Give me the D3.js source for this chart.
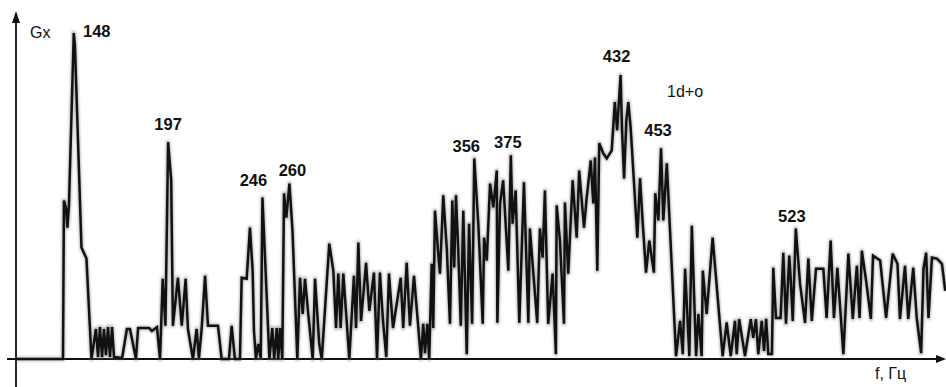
<!DOCTYPE html>
<html>
<head>
<meta charset="utf-8">
<script src="https://cdn.jsdelivr.net/npm/d3@7"></script>
<style>
  html, body { margin: 0; padding: 0; background: #fff; }
  svg { display: block; }
  text { font-family: "Liberation Sans", Arial, sans-serif; fill: #111; }
</style>
</head>
<body>
<svg id="chart" width="946" height="387"></svg>
<script>
// Spectral density Gx versus frequency f, Hz
const freqHz = [
  118.0, 142.4, 142.9, 144.0, 144.7, 145.5, 148.0, 148.6, 152.0, 154.6,
  157.2, 159.5, 160.6, 161.6, 162.7, 163.7, 164.7, 165.8, 166.8, 167.9,
  168.9, 173.1, 175.6, 177.2, 180.3, 181.4, 187.1, 188.6, 191.2, 192.8,
  194.2, 195.6, 197.0, 198.6, 199.5, 202.1, 204.1, 206.1, 207.3, 209.9,
  211.8, 213.0, 214.4, 216.2, 217.7, 222.9, 224.8, 228.6, 230.0, 231.7,
  234.3, 235.2, 237.8, 239.5, 240.9, 241.6, 242.6, 243.8, 245.1, 246.0,
  249.6, 251.1, 252.1, 253.4, 254.2, 255.1, 256.3, 257.2, 258.4, 260.0,
  261.6, 264.1, 265.5, 266.9, 268.1, 269.8, 272.1, 273.3, 275.5, 276.8,
  280.7, 282.8, 284.2, 285.4, 286.6, 288.0, 291.1, 293.5, 294.6, 295.8,
  297.2, 299.8, 301.5, 303.9, 305.5, 307.0, 308.6, 310.3, 311.7, 313.8,
  317.8, 319.1, 320.9, 322.6, 324.7, 328.3, 329.5, 330.4, 331.6, 332.6,
  333.9, 334.7, 335.6, 337.3, 338.2, 339.9, 341.7, 343.4, 344.6, 345.6,
  346.5, 347.7, 349.0, 350.3, 352.1, 353.3, 354.9, 356.0, 358.1, 360.4,
  361.1, 362.5, 364.2, 365.9, 367.7, 368.0, 369.4, 371.0, 373.7, 375.0,
  375.9, 377.5, 379.4, 381.8, 384.1, 384.9, 386.7, 388.7, 390.1, 391.5,
  392.7, 394.4, 396.7, 398.4, 398.8, 400.5, 402.6, 403.1, 404.8, 407.1,
  409.2, 410.5, 413.0, 414.4, 416.5, 417.8, 418.7, 419.9, 420.9, 423.0,
  424.8, 427.4, 429.0, 430.2, 432.0, 432.7, 433.8, 435.0, 436.0, 437.2,
  440.7, 442.1, 443.3, 445.2, 446.9, 449.3, 450.0, 451.6, 453.0, 454.2,
  456.0, 460.8, 462.9, 464.3, 465.5, 467.7, 469.0, 471.2, 472.4, 474.1,
  474.7, 476.7, 479.8, 485.0, 487.1, 489.2, 491.4, 492.3, 493.6, 496.6,
  499.6, 500.9, 502.3, 503.5, 505.3, 506.5, 507.6, 508.7, 510.6, 511.3,
  512.7, 515.1, 516.5, 517.9, 519.6, 520.4, 521.4, 523.0, 525.2, 527.8,
  529.5, 531.3, 533.5, 537.3, 539.0, 541.1, 542.8, 544.6, 547.7, 550.3,
  552.6, 554.7, 556.1, 557.3, 559.5, 562.0, 563.1, 566.8, 569.9, 573.3,
  575.8, 577.1, 579.7, 581.4, 584.0, 585.8, 588.1, 589.3, 590.7, 591.9,
  593.7, 596.3, 598.9, 600.6
];

const gx = [
  0, 0, 48.6, 46.2, 40.3, 47.1, 100, 96.3, 34.2, 30.8,
  0, 9.2, 0.6, 9.8, 0.6, 9.2, 1.2, 9.8, 0.6, 9.8,
  0.6, 0.3, 9.2, 9.2, 0, 9.5, 9.5, 8.6, 9.8, 0,
  24.6, 10.2, 66.5, 54.8, 10.2, 24.9, 10.2, 24.6, 9.2, 0,
  9.2, 0.3, 9.2, 25.5, 10.2, 10.2, 0, 0, 10.2, 0,
  0, 24.9, 24.6, 40.3, 27.1, 8.6, 0, 4.6, 0.3, 49.5,
  0, 9.5, 0, 9.5, 0, 9.5, 0, 50.8, 43.4, 53.8,
  39.4, 0, 24.9, 13.8, 24.6, 13.8, 0, 24.6, 4.6, 0,
  35.4, 27.1, 9.5, 26.2, 9.5, 26.2, 0, 25.5, 9.5, 35.7,
  11.7, 29.5, 14.8, 26.5, 0.3, 26.5, 11.7, 0.6, 26.2, 9.5,
  24.9, 9.5, 29.5, 10.2, 25.5, 0, 10.8, 1.8, 10.8, 0,
  29.2, 9.5, 45.5, 32.3, 26.2, 50.2, 34.2, 10.8, 48.6, 28.1,
  50.2, 33.2, 10.2, 45.5, 1.5, 41.5, 10.8, 61.5, 41.5, 10.8,
  37.2, 30.2, 53.8, 46.5, 57.8, 11.1, 47.7, 54.8, 27.1, 62.5,
  41.5, 51.7, 11.1, 54.2, 11.1, 40.0, 26.2, 11.1, 40.0, 31.1,
  51.7, 10.8, 26.2, 1.5, 47.1, 36.3, 10.8, 48.0, 26.2, 54.8,
  37.2, 57.8, 40.3, 49.5, 60.9, 47.7, 61.8, 27.1, 66.2, 63.1,
  61.5, 64.0, 78.8, 70.2, 87.1, 71.1, 55.4, 73.2, 78.8, 71.1,
  37.2, 55.4, 43.5, 26.5, 36.3, 26.5, 50.8, 42.5, 64.6, 42.5,
  60.0, 0.9, 11.7, 1.5, 27.7, 0.9, 40.9, 0.9, 13.8, 0.9,
  27.1, 13.8, 37.2, 0.9, 11.2, 0.9, 11.7, 1.5, 12.2, 0.9,
  12.2, 6.5, 12.2, 1.5, 11.7, 2.5, 12.3, 1.5, 1.5, 28.0,
  12.6, 12.6, 32.6, 10.8, 31.7, 24.0, 11.7, 40.0, 23.1, 11.1,
  30.8, 11.7, 27.7, 27.7, 12.6, 36.3, 12.6, 28.0, 1.5, 32.3,
  12.3, 28.6, 12.6, 33.2, 24.0, 12.3, 31.7, 30.2, 12.6, 32.3,
  29.2, 12.3, 28.6, 12.3, 28.0, 12.6, 1.8, 27.7, 32.6, 12.6,
  31.1, 30.8, 29.2, 20.9
];

// Labelled peak frequencies, Hz
const peakFreqs = [148, 197, 246, 260, 356, 375, 432, 453, 523];
// Label placement relative to each peak tip (px)
const labelNudge = [[23, 4], [0, -12], [-9, -12], [3, -8], [-8, -7], [-3, -7], [-4, -13], [-3, -12], [-4, -7]];

const width = 946, height = 387;
const svg = d3.select("#chart");

const x = d3.scaleLinear().domain([118, 601]).range([16, 946]);
const y = d3.scaleLinear().domain([0, 100]).range([359, 33]);

const data = freqHz.map((f, i) => ({ f, g: gx[i] }));

const defs = svg.append("defs");
defs.append("filter").attr("id", "soft")
  .append("feGaussianBlur").attr("stdDeviation", 0.9);

// axes with arrowheads
const x0 = x.range()[0];
const yBase = y(0);
svg.append("line")
  .attr("x1", x0 - 9).attr("x2", 938)
  .attr("y1", yBase).attr("y2", yBase)
  .attr("stroke", "#111").attr("stroke-width", 1.8);
svg.append("path")
  .attr("d", `M946,${yBase} L936,${yBase - 4} L936,${yBase + 4} Z`)
  .attr("fill", "#111");
svg.append("line")
  .attr("x1", x0).attr("x2", x0)
  .attr("y1", height).attr("y2", 20)
  .attr("stroke", "#111").attr("stroke-width", 1.8);
svg.append("path")
  .attr("d", `M${x0},11 L${x0 - 4},23 L${x0 + 4},23 Z`)
  .attr("fill", "#111");

const line = d3.line().x(d => x(d.f)).y(d => y(d.g));

// soft grey halo under the trace
svg.append("path")
  .datum(data)
  .attr("d", line)
  .attr("fill", "none")
  .attr("stroke", "#6a6a6a")
  .attr("stroke-width", 4.5)
  .attr("stroke-opacity", 0.45)
  .attr("stroke-linejoin", "round")
  .attr("filter", "url(#soft)");

svg.append("path")
  .datum(data)
  .attr("d", line)
  .attr("fill", "none")
  .attr("stroke", "#111")
  .attr("stroke-width", 2.5)
  .attr("stroke-linejoin", "miter")
  .attr("stroke-miterlimit", 3);

// peak labels
peakFreqs.forEach((pf, i) => {
  const d = data.find(p => p.f === pf);
  svg.append("text")
    .attr("x", x(d.f) + labelNudge[i][0])
    .attr("y", y(d.g) + labelNudge[i][1])
    .attr("text-anchor", "middle")
    .attr("font-size", 16.5)
    .attr("font-weight", "bold")
    .text(pf);
});

// axis titles and curve name
svg.append("text").attr("x", 30).attr("y", 38).attr("font-size", 16).text("Gx");
svg.append("text").attr("x", 667).attr("y", 97).attr("font-size", 16).text("1d+o");
svg.append("text").attr("x", 875).attr("y", 379).attr("font-size", 16).text("f, Гц");
</script>
</body>
</html>
